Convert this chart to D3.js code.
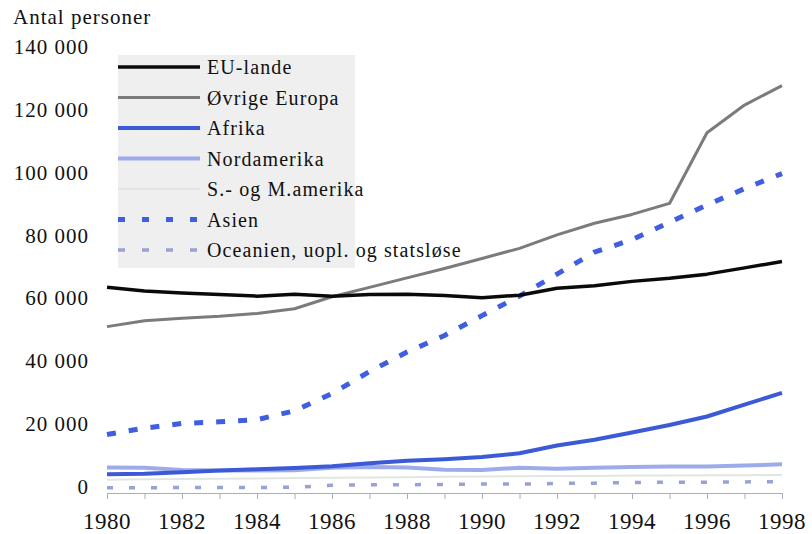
<!DOCTYPE html>
<html lang="en">
  <head>
    <meta charset="UTF-8" />
    <meta name="viewport" content="width=device-width, initial-scale=1.0" />
    <title>Antal personer</title>
    <style>
      body {
        margin: 0;
        background: #fff;
      }
    </style>
  </head>
  <body>
    <svg width="812" height="534" id="chart"></svg>

    <script src="https://d3js.org/d3.v7.min.js"></script>
    <script>
      var years = [1980, 1981, 1982, 1983, 1984, 1985, 1986, 1987, 1988, 1989,
        1990, 1991, 1992, 1993, 1994, 1995, 1996, 1997, 1998];
      var euLande = [64800, 63600, 63000, 62500, 62000, 62600, 62000, 62500, 62600, 62200,
        61500, 62300, 64500, 65300, 66700, 67700, 69000, 71000, 73000];
      var ovrigeEuropa = [52300, 54200, 55000, 55600, 56500, 58000, 61800, 64800, 67800, 70800,
        74000, 77200, 81500, 85200, 88000, 91500, 114000, 122800, 129000];
      var afrika = [5300, 5500, 6000, 6500, 6900, 7300, 7900, 8800, 9600, 10100,
        10800, 12000, 14500, 16300, 18600, 21000, 23700, 27500, 31200];
      var nordamerika = [7500, 7400, 6700, 6500, 6500, 6600, 7400, 7600, 7500, 6800,
        6700, 7400, 7100, 7400, 7600, 7800, 7800, 8100, 8500];
      var sydMellemamerika = [3600, 3700, 3800, 3900, 4000, 4100, 4200, 4300, 4400, 4500,
        4600, 4700, 4800, 4800, 4900, 4900, 5000, 5000, 5100];
      var asien = [18000, 20000, 21500, 22000, 22700, 25500, 31000, 38000, 44200, 49500,
        55800, 62000, 69000, 76000, 80000, 85500, 91000, 96200, 101000];
      var oceanien = [1000, 1000, 1100, 1100, 1100, 1200, 1800, 2000, 2000, 2100,
        2200, 2200, 2400, 2500, 2700, 2800, 2800, 2900, 3000];
      var yTicks = [0, 20000, 40000, 60000, 80000, 100000, 120000, 140000];
      var xTickLabels = [1980, 1982, 1984, 1986, 1988, 1990, 1992, 1994, 1996, 1998];

      var series = [
        { name: "EU-lande", values: euLande, color: "#0a0a0a", width: 3.5, dash: null },
        { name: "Øvrige Europa", values: ovrigeEuropa, color: "#7b7b7b", width: 3, dash: null },
        { name: "Afrika", values: afrika, color: "#3c5ad6", width: 4, dash: null },
        { name: "Nordamerika", values: nordamerika, color: "#9eabea", width: 4, dash: null },
        { name: "S.- og M.amerika", values: sydMellemamerika, color: "#e2e6e2", width: 2, dash: null },
        { name: "Asien", values: asien, color: "#3f5fe0", width: 5, dash: "9,13" },
        { name: "Oceanien, uopl. og statsløse", values: oceanien, color: "#98a2d4", width: 3.5, dash: "6,16" }
      ];

      var serif = "'Liberation Serif'";

      var svg = d3.select("#chart");
      var x = d3.scaleLinear().domain([1980, 1998]).range([107, 782]);
      var y = d3.scaleLinear().domain([0, 140000]).range([491, 51]);

      // y labels (no axis line in the original)
      svg.append("g")
        .selectAll("text")
        .data(yTicks)
        .join("text")
        .attr("x", 89)
        .attr("y", function (d) { return y(d) + 3; })
        .attr("text-anchor", "end")
        .style("font-family", serif)
        .style("font-size", "21px")
        .style("letter-spacing", "1px")
        .attr("fill", "#111")
        .text(function (d) { return d3.format(",")(d).replace(/,/g, " "); });

      svg.append("text")
        .attr("x", 13)
        .attr("y", 24)
        .style("font-family", serif)
        .style("font-size", "21px")
        .style("letter-spacing", "1px")
        .attr("fill", "#111")
        .text("Antal personer");

      // x axis
      var xAxis = d3.axisBottom(x)
        .tickValues(years)
        .tickSize(6)
        .tickFormat("");
      var gx = svg.append("g")
        .attr("transform", "translate(0,493)")
        .call(xAxis);
      gx.select(".domain").attr("stroke", "#a9acc4");
      gx.selectAll(".tick line").attr("stroke", "#a9acc4");

      svg.append("g")
        .selectAll("text")
        .data(xTickLabels)
        .join("text")
        .attr("x", function (d) { return x(d); })
        .attr("y", 529)
        .attr("text-anchor", "middle")
        .style("font-family", serif)
        .style("font-size", "23px")
        .style("letter-spacing", "0.5px")
        .attr("fill", "#111")
        .text(function (d) { return d; });

      // lines
      var line = d3.line()
        .x(function (d, i) { return x(years[i]); })
        .y(function (d) { return y(d); });

      var drawOrder = [4, 6, 3, 2, 5, 1, 0];
      svg.append("g")
        .selectAll("path")
        .data(drawOrder.map(function (i) { return series[i]; }))
        .join("path")
        .attr("fill", "none")
        .attr("stroke", function (d) { return d.color; })
        .attr("stroke-width", function (d) { return d.width; })
        .attr("stroke-dasharray", function (d) { return d.dash; })
        .attr("stroke-linejoin", "round")
        .attr("d", function (d) { return line(d.values); });

      // legend
      var legend = svg.append("g");
      legend.append("rect")
        .attr("x", 118)
        .attr("y", 55)
        .attr("width", 237)
        .attr("height", 213)
        .attr("fill", "#efefef");

      var rows = legend.selectAll("g.row")
        .data(series)
        .join("g")
        .attr("class", "row")
        .attr("transform", function (d, i) { return "translate(0," + (67 + i * 30.5) + ")"; });

      rows.append("line")
        .attr("x1", 118)
        .attr("x2", 200)
        .attr("stroke", function (d) { return d.color; })
        .attr("stroke-width", function (d) { return d.width; })
        .attr("stroke-dasharray", function (d) { return d.dash ? "7,17" : null; });

      rows.append("text")
        .attr("x", 207)
        .attr("y", 7)
        .style("font-family", serif)
        .style("font-size", "20px")
        .style("letter-spacing", "1.1px")
        .attr("fill", "#111")
        .text(function (d) { return d.name; });
    </script>
  </body>
</html>
